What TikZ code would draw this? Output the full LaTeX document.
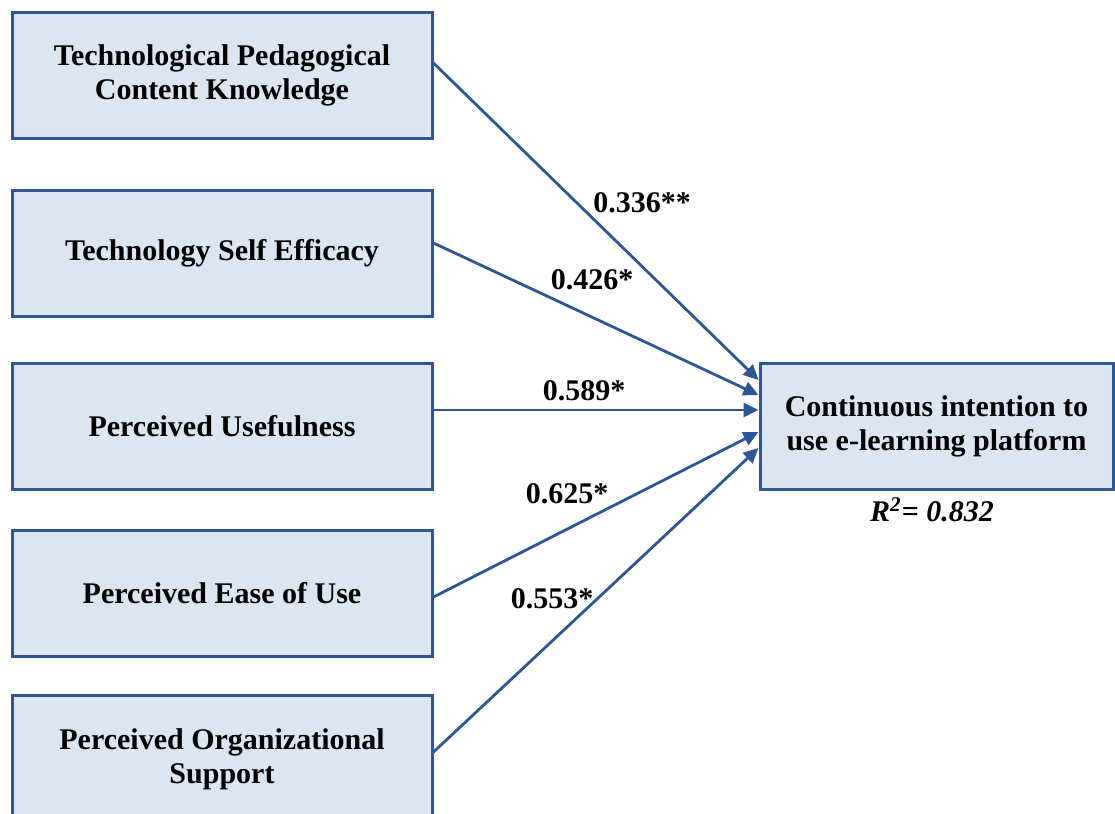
\documentclass[tikz,border=0pt]{standalone}
\usepackage{fontspec}
\setmainfont{Liberation Serif}
\usetikzlibrary{arrows.meta}
\definecolor{boxfill}{HTML}{DCE6F2}
\definecolor{boxline}{HTML}{2F5597}
\begin{document}
\begin{tikzpicture}[x=0.5pt,y=-0.5pt,
  box/.style={draw=boxline,fill=boxfill,line width=1.5pt,rectangle,
    minimum width=210pt,minimum height=63pt,inner sep=0pt,align=center,
    font=\fontsize{15}{17}\selectfont\bfseries},
  arr/.style={draw=boxline,line width=1.4pt,-{Triangle[length=7.5pt,width=7pt]}},
  lab/.style={inner sep=0pt,font=\fontsize{15}{17}\selectfont\bfseries}]
\clip (0,0) rectangle (1115,814);
\fill[white] (0,0) rectangle (1115,814);
\node[box] (b1) at (222,75) {Technological Pedagogical\\Content Knowledge};
\node[box] (b2) at (222,253.5) {Technology Self Efficacy};
\node[box] (b3) at (222,426.5) {Perceived Usefulness};
\node[box] (b4) at (222,593.5) {Perceived Ease of Use};
\node[box,minimum height=64pt] (b5) at (222,759) {Perceived Organizational\\Support};
\node[box,minimum width=176.5pt] (out) at (936.5,426) {Continuous intention to\\use e-learning platform};
\draw[arr] ([yshift=6pt]b1.east) -- ([yshift=23pt]out.west);
\draw[arr] ([yshift=5.25pt]b2.east) -- ([yshift=15.5pt]out.west);
\draw[arr] ([yshift=8.25pt]b3.east) -- ([yshift=8pt]out.west);
\draw[arr] ([yshift=-1.75pt]b4.east) -- ([yshift=-3pt]out.west);
\draw[arr] ([yshift=3.5pt]b5.east) -- ([yshift=-11pt]out.west);
\node[lab] (l1) at (642,203) {0.336**};
\node[lab] (l2) at (592,280) {0.426*};
\node[lab] (l3) at (584,391) {0.589*};
\node[lab] (l4) at (567,494) {0.625*};
\node[lab] (l5) at (552,599) {0.553*};
\node[lab,font=\fontsize{15}{17}\selectfont\bfseries\itshape] (r2) at (932,510) {R\textsuperscript{2}= 0.832};
\end{tikzpicture}
\end{document}
